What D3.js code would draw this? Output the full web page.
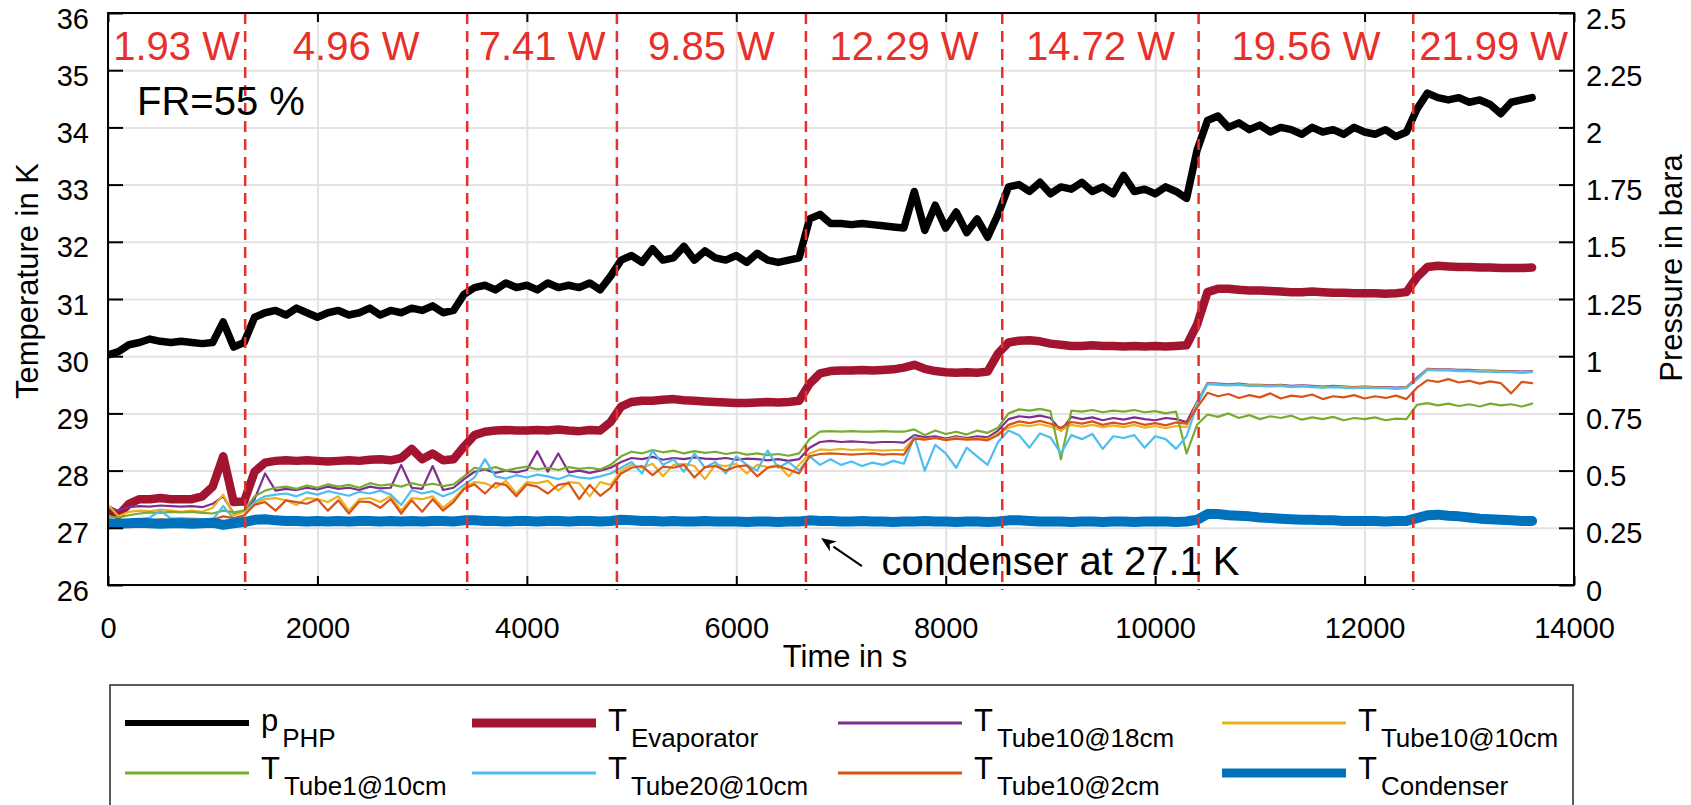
<!DOCTYPE html>
<html>
<head>
<meta charset="utf-8">
<title>PHP FR=55 %</title>
<script src="https://cdn.jsdelivr.net/npm/d3@7"></script>
<style>
  body { margin: 0; background: #fff; }
  svg text { font-family: "Liberation Sans", Arial, sans-serif; fill: #000; }
  .grid line { stroke: #e3e3e3; stroke-width: 2; }
  .grid path { display: none; }
  .axis path { display: none; }
  .axis line { stroke: #000; stroke-width: 2; }
</style>
</head>
<body>
<svg id="chart" width="1691" height="805"></svg>
<script>
// time stamps in s
const timeS = [
  0, 100, 200, 300, 400, 500, 600, 700, 800, 900,
  1000, 1100, 1200, 1300, 1400, 1500, 1600, 1700, 1800, 1900,
  2000, 2100, 2200, 2300, 2400, 2500, 2600, 2700, 2800, 2900,
  3000, 3100, 3200, 3300, 3400, 3500, 3600, 3700, 3800, 3900,
  4000, 4100, 4200, 4300, 4400, 4500, 4600, 4700, 4800, 4900,
  5000, 5100, 5200, 5300, 5400, 5500, 5600, 5700, 5800, 5900,
  6000, 6100, 6200, 6300, 6400, 6500, 6600, 6700, 6800, 6900,
  7000, 7100, 7200, 7300, 7400, 7500, 7600, 7700, 7800, 7900,
  8000, 8100, 8200, 8300, 8400, 8500, 8600, 8700, 8800, 8900,
  9000, 9100, 9200, 9300, 9400, 9500, 9600, 9700, 9800, 9900,
  10000, 10100, 10200, 10300, 10400, 10500, 10600, 10700, 10800, 10900,
  11000, 11100, 11200, 11300, 11400, 11500, 11600, 11700, 11800, 11900,
  12000, 12100, 12200, 12300, 12400, 12500, 12600, 12700, 12800, 12900,
  13000, 13100, 13200, 13300, 13400, 13500, 13600
];

// p_PHP in bara (right axis)
const pPHP = [
  1.005, 1.02, 1.05, 1.06, 1.075, 1.065, 1.06, 1.065, 1.06, 1.055,
  1.06, 1.15, 1.04, 1.06, 1.17, 1.19, 1.2, 1.18, 1.21, 1.19,
  1.17, 1.19, 1.2, 1.18, 1.19, 1.21, 1.18, 1.2, 1.19, 1.21,
  1.2, 1.22, 1.19, 1.2, 1.27, 1.3, 1.31, 1.29, 1.32, 1.3,
  1.31, 1.29, 1.32, 1.3, 1.31, 1.3, 1.32, 1.29, 1.35, 1.42,
  1.44, 1.41, 1.47, 1.42, 1.43, 1.48, 1.42, 1.46, 1.43, 1.42,
  1.44, 1.41, 1.45, 1.42, 1.41, 1.42, 1.43, 1.6, 1.62, 1.58,
  1.58, 1.575, 1.58, 1.575, 1.57, 1.565, 1.56, 1.72, 1.55, 1.66,
  1.56, 1.63, 1.54, 1.6, 1.52, 1.62, 1.74, 1.75, 1.72, 1.76,
  1.71, 1.74, 1.73, 1.76, 1.72, 1.74, 1.71, 1.79, 1.72, 1.73,
  1.71, 1.74, 1.72, 1.69, 1.9, 2.03, 2.05, 2.0, 2.02, 1.99,
  2.01, 1.98, 2.0, 1.99, 1.97, 2.0, 1.98, 1.99, 1.97, 2.0,
  1.98, 1.97, 1.99, 1.96, 1.98, 2.08, 2.15, 2.13, 2.12, 2.13,
  2.11, 2.12, 2.1, 2.06, 2.11, 2.12, 2.13
];

// temperatures in K (left axis)
const tEvap = [
  27.32, 27.22, 27.42, 27.5, 27.5, 27.52, 27.5, 27.5, 27.5, 27.55,
  27.72, 28.25, 27.45, 27.46, 27.98, 28.14, 28.17, 28.18, 28.17, 28.18,
  28.17, 28.16, 28.17, 28.18, 28.17, 28.19, 28.2, 28.18, 28.22, 28.38,
  28.2, 28.3, 28.18, 28.2, 28.42, 28.62, 28.68, 28.7, 28.71, 28.7,
  28.7, 28.71, 28.7, 28.72, 28.7, 28.69, 28.71, 28.7, 28.85, 29.12,
  29.2, 29.22, 29.22, 29.24, 29.25, 29.23, 29.22, 29.21, 29.2, 29.19,
  29.18, 29.18, 29.19, 29.2, 29.19, 29.2, 29.22, 29.52, 29.7, 29.74,
  29.75, 29.75, 29.76, 29.75, 29.76, 29.77, 29.8, 29.85, 29.78, 29.74,
  29.72, 29.71, 29.72, 29.71, 29.73, 30.05, 30.24, 30.27, 30.28, 30.26,
  30.22, 30.2, 30.18, 30.18, 30.19, 30.18, 30.18, 30.17, 30.18, 30.17,
  30.18, 30.17, 30.18, 30.19, 30.55, 31.12, 31.18, 31.18, 31.16, 31.15,
  31.15, 31.14, 31.13, 31.12, 31.12, 31.13, 31.12, 31.11, 31.11, 31.1,
  31.1, 31.1, 31.09, 31.1, 31.12, 31.38, 31.56, 31.58, 31.57, 31.56,
  31.56, 31.55, 31.55, 31.54, 31.54, 31.54, 31.55
];

const tTube10at18 = [
  27.35, 27.3, 27.36, 27.38, 27.37, 27.39, 27.38, 27.37, 27.38, 27.36,
  27.42, 27.55, 27.25, 27.3, 27.5, 27.95, 27.65, 27.68, 27.66, 27.7,
  27.67, 27.72, 27.68, 27.7, 27.66, 27.72, 27.69, 27.7, 28.1, 27.7,
  27.68, 28.08, 27.66, 27.7, 27.85, 27.98, 28.02, 27.96, 28.0, 27.97,
  28.01, 28.34, 27.98, 28.3, 27.97, 28.0, 27.96, 28.0, 28.05, 28.15,
  28.22, 28.2, 28.24, 28.19, 28.22, 28.2, 28.23, 28.21, 28.2, 28.22,
  28.19, 28.21, 28.2, 28.18, 28.2, 28.17, 28.2, 28.4, 28.5, 28.52,
  28.5, 28.51, 28.5, 28.49, 28.5, 28.5, 28.49, 28.62, 28.58, 28.6,
  28.56, 28.6, 28.57, 28.6, 28.58, 28.7, 28.9, 28.95, 28.93, 28.96,
  28.92, 28.7, 28.94, 28.9, 28.93, 28.88, 28.92, 28.89, 28.93, 28.9,
  28.88, 28.92, 28.9, 28.85, 29.2, 29.53, 29.52, 29.51, 29.52, 29.5,
  29.5, 29.49, 29.5, 29.48, 29.49, 29.48, 29.47, 29.48, 29.47, 29.46,
  29.47, 29.46, 29.46, 29.45, 29.46, 29.62, 29.78, 29.77, 29.77, 29.76,
  29.76, 29.75, 29.75, 29.74, 29.74, 29.73, 29.74
];

const tTube10at10 = [
  27.4, 27.2, 27.28, 27.3, 27.29, 27.32, 27.3, 27.28, 27.3, 27.28,
  27.35, 27.58, 27.22, 27.28, 27.42, 27.5, 27.52, 27.48, 27.4, 27.52,
  27.5, 27.45, 27.55, 27.3, 27.5, 27.52, 27.45, 27.55, 27.3, 27.52,
  27.5, 27.55, 27.35, 27.5, 27.7, 27.8, 27.78, 27.7, 27.82, 27.6,
  27.8, 27.78, 27.82, 27.65, 27.8, 27.78, 27.55, 27.8, 27.75, 28.0,
  28.1, 28.05, 28.12, 27.9, 28.1, 28.12, 28.08, 27.85, 28.1, 28.08,
  28.12, 27.95, 28.1, 28.06, 28.1, 27.9, 28.1, 28.3, 28.37, 28.36,
  28.38, 28.36, 28.37, 28.36, 28.35, 28.36, 28.36, 28.58, 28.55, 28.57,
  28.54, 28.58, 28.55, 28.56, 28.55, 28.65, 28.75, 28.8, 28.78, 28.81,
  28.77, 28.7, 28.8, 28.77, 28.8, 28.76, 28.79, 28.76, 28.8, 28.75,
  28.78, 28.74, 28.78, 28.76, 29.18, 29.52, 29.51, 29.5, 29.51, 29.49,
  29.49, 29.48, 29.49, 29.47, 29.48, 29.47, 29.46, 29.47, 29.46, 29.45,
  29.46, 29.45, 29.45, 29.44, 29.45, 29.6, 29.77, 29.76, 29.76, 29.75,
  29.75, 29.74, 29.74, 29.73, 29.73, 29.72, 29.73
];

const tTube1at10 = [
  27.2, 27.18, 27.22, 27.25, 27.27, 27.26, 27.28, 27.27, 27.28, 27.26,
  27.25, 27.3, 27.27, 27.3, 27.55, 27.65, 27.7, 27.72, 27.68, 27.74,
  27.7, 27.76, 27.72, 27.75, 27.7, 27.78, 27.74, 27.76, 27.72, 27.78,
  27.74, 27.77, 27.73, 27.76, 27.9, 28.05, 28.02, 28.06, 28.0, 28.04,
  28.07, 28.02, 28.05, 28.01, 28.06, 28.03, 28.05, 28.02, 28.1, 28.25,
  28.33, 28.3, 28.36, 28.32, 28.35, 28.3, 28.34, 28.31, 28.33, 28.29,
  28.32, 28.28, 28.3, 28.27, 28.29, 28.26, 28.3, 28.55, 28.68, 28.69,
  28.68, 28.69, 28.68, 28.68, 28.69, 28.68, 28.68, 28.72, 28.62, 28.7,
  28.64, 28.68, 28.63, 28.7, 28.66, 28.75, 29.0, 29.07, 29.05, 29.08,
  29.04, 28.2, 29.05, 29.03, 29.06, 29.02, 29.05, 29.03, 29.06, 29.02,
  29.04, 29.0, 29.03, 28.3, 28.8, 28.98, 28.94, 29.0, 28.92, 28.97,
  28.9, 28.95, 28.92, 28.96, 28.89, 28.93, 28.9, 28.94, 28.88, 28.92,
  28.9, 28.93, 28.88, 28.91, 28.9, 29.15, 29.18, 29.14, 29.17, 29.13,
  29.16, 29.12, 29.17, 29.14, 29.16, 29.12, 29.17
];

const tTube20at10 = [
  27.05, 27.1, 27.12, 27.15, 27.18, 27.3, 27.16, 27.17, 27.16, 27.15,
  27.14, 27.38, 27.16, 27.2, 27.45, 27.55, 27.58, 27.6, 27.55, 27.62,
  27.58, 27.64, 27.6, 27.56, 27.63, 27.6, 27.65, 27.58, 27.4, 27.66,
  27.6, 27.64, 27.55, 27.62, 27.75, 27.88, 28.2, 27.9, 27.86, 27.92,
  27.88, 27.93, 27.9, 27.85, 27.92, 27.88, 27.86, 27.9, 27.95, 28.05,
  28.15, 27.95, 28.35, 28.1, 28.2, 27.98, 28.3, 28.05, 28.15, 27.95,
  28.25, 28.1, 28.0, 28.35, 28.05, 28.15, 28.0, 28.25, 28.1, 28.2,
  28.1, 28.16, 28.08, 28.14, 28.1, 28.17, 28.12, 28.6, 28.0, 28.45,
  28.3, 28.05, 28.4, 28.25, 28.1, 28.5, 28.7, 28.62, 28.4, 28.65,
  28.58, 28.3, 28.62, 28.55, 28.64, 28.38, 28.6, 28.57, 28.62, 28.4,
  28.6, 28.55, 28.38, 28.6, 29.15, 29.51, 29.5, 29.49, 29.5, 29.48,
  29.48, 29.47, 29.48, 29.46, 29.47, 29.46, 29.45, 29.46, 29.45, 29.44,
  29.45, 29.44, 29.44, 29.43, 29.44, 29.6, 29.76, 29.75, 29.75, 29.74,
  29.74, 29.73, 29.73, 29.72, 29.72, 29.71, 29.72
];

const tTube10at2 = [
  27.1, 27.12, 27.1, 27.14, 27.12, 27.15, 27.13, 27.12, 27.15, 27.13,
  27.14, 27.2, 27.17, 27.22, 27.4, 27.45, 27.3, 27.48, 27.45, 27.42,
  27.5, 27.3, 27.48, 27.25, 27.46, 27.45, 27.35, 27.5, 27.25, 27.48,
  27.28, 27.5, 27.3, 27.45, 27.68, 27.76, 27.6, 27.78, 27.75, 27.55,
  27.76, 27.72, 27.6, 27.75, 27.78, 27.5, 27.75, 27.56, 27.7, 27.95,
  28.05, 28.08, 27.92, 28.07, 28.05, 28.1, 27.88, 28.06, 28.08, 28.0,
  28.07, 28.09, 27.9, 28.05, 28.08, 28.02, 27.95, 28.25, 28.29, 28.3,
  28.29, 28.28, 28.29, 28.3, 28.28, 28.29, 28.28, 28.56, 28.54, 28.57,
  28.53, 28.56, 28.54, 28.55, 28.53, 28.62, 28.8, 28.86, 28.83, 28.87,
  28.82, 28.75, 28.85, 28.82, 28.86, 28.8, 28.84, 28.81, 28.85, 28.8,
  28.83, 28.79, 28.84, 28.82, 29.1, 29.36, 29.3, 29.34, 29.27, 29.32,
  29.28, 29.35, 29.26, 29.31, 29.29, 29.33, 29.25, 29.3, 29.28, 29.32,
  29.26, 29.3, 29.27, 29.31, 29.25, 29.45, 29.58, 29.55, 29.6, 29.54,
  29.57, 29.52, 29.56, 29.53, 29.35, 29.55, 29.53
];

const tCond = [
  27.08, 27.07, 27.08, 27.09, 27.08, 27.07, 27.08, 27.08, 27.07, 27.08,
  27.09, 27.05, 27.08, 27.1, 27.14, 27.15, 27.13, 27.12, 27.12, 27.11,
  27.12, 27.11, 27.12, 27.11, 27.12, 27.12, 27.11, 27.12, 27.11, 27.12,
  27.11, 27.12, 27.12, 27.11, 27.13, 27.13, 27.12, 27.12, 27.11, 27.12,
  27.12, 27.11, 27.12, 27.12, 27.11, 27.12, 27.12, 27.11, 27.12, 27.14,
  27.13, 27.12, 27.12, 27.11, 27.12, 27.11, 27.11, 27.12, 27.11, 27.11,
  27.11, 27.1, 27.11, 27.11, 27.1, 27.11, 27.11, 27.13, 27.12, 27.12,
  27.11, 27.11, 27.12, 27.11, 27.11, 27.1, 27.11, 27.11, 27.12, 27.11,
  27.11, 27.1, 27.11, 27.11, 27.1, 27.11, 27.13, 27.13, 27.12, 27.11,
  27.11, 27.11, 27.1, 27.11, 27.11, 27.1, 27.11, 27.11, 27.1, 27.11,
  27.11, 27.11, 27.1, 27.11, 27.14, 27.24, 27.24, 27.22, 27.21, 27.2,
  27.18, 27.17, 27.16, 27.15, 27.14, 27.14, 27.13, 27.13, 27.12, 27.12,
  27.12, 27.12, 27.11, 27.12, 27.12, 27.17, 27.22, 27.23, 27.21, 27.2,
  27.18, 27.16, 27.15, 27.14, 27.13, 27.12, 27.12
];

// heater power steps
const stepTimes = [1310, 3430, 4860, 6665, 8540, 10415, 12465];
const powerLabels = ["1.93 W", "4.96 W", "7.41 W", "9.85 W", "12.29 W", "14.72 W", "19.56 W", "21.99 W"];

// axis ticks
const timeTicks = [0, 2000, 4000, 6000, 8000, 10000, 12000, 14000];
const tempTicks = [26, 27, 28, 29, 30, 31, 32, 33, 34, 35, 36];
const pressTicks = [0, 0.25, 0.5, 0.75, 1, 1.25, 1.5, 1.75, 2, 2.25, 2.5];

// legend (row-wise, 4 columns)
const legendMain = ["p", "T", "T", "T", "T", "T", "T", "T"];
const legendSub = ["PHP", "Evaporator", "Tube10@18cm", "Tube10@10cm", "Tube1@10cm", "Tube20@10cm", "Tube10@2cm", "Condenser"];

const colors = {
  p: "#000000", evap: "#A2142F", t18: "#7E2F8E", t10: "#EDB120",
  t1: "#77AC30", t20: "#4DBEEE", t2: "#D95319", cond: "#0072BD"
};

const svg = d3.select("#chart");
const mLeft = 108, mRight = 1574, mTop = 13, mBottom = 585;

const x = d3.scaleLinear().domain([0, 14000]).range([mLeft, mRight]);
const yT = d3.scaleLinear().domain([26, 36]).range([mBottom, mTop]);
const yP = d3.scaleLinear().domain([0, 2.5]).range([mBottom, mTop]);

svg.append("rect").attr("width", 1691).attr("height", 805).attr("fill", "#fff");

// grid
svg.append("g").attr("class", "grid")
  .attr("transform", "translate(0," + mBottom + ")")
  .call(d3.axisBottom(x).tickValues(timeTicks).tickSize(-(mBottom - mTop)).tickFormat(""));
svg.append("g").attr("class", "grid")
  .attr("transform", "translate(" + mLeft + ",0)")
  .call(d3.axisLeft(yT).tickValues(tempTicks).tickSize(-(mRight - mLeft)).tickFormat(""));

svg.append("clipPath").attr("id", "plotclip")
  .append("rect").attr("x", mLeft).attr("y", mTop).attr("width", mRight - mLeft).attr("height", mBottom - mTop);

const plot = svg.append("g").attr("clip-path", "url(#plotclip)");

function lineT(vals) {
  return d3.line().x((d, i) => x(timeS[i])).y(d => yT(d))(vals);
}
function lineP(vals) {
  return d3.line().x((d, i) => x(timeS[i])).y(d => yP(d))(vals);
}

const series = [
  { d: lineP(pPHP), c: colors.p, w: 7.5 },
  { d: lineT(tEvap), c: colors.evap, w: 8.5 },
  { d: lineT(tTube10at18), c: colors.t18, w: 2.2 },
  { d: lineT(tTube10at10), c: colors.t10, w: 2.2 },
  { d: lineT(tTube1at10), c: colors.t1, w: 2.2 },
  { d: lineT(tTube20at10), c: colors.t20, w: 2.2 },
  { d: lineT(tTube10at2), c: colors.t2, w: 2.2 },
  { d: lineT(tCond), c: colors.cond, w: 10 }
];
series.forEach(s => {
  plot.append("path")
    .attr("d", s.d)
    .attr("fill", "none")
    .attr("stroke", s.c)
    .attr("stroke-width", s.w)
    .attr("stroke-linejoin", "round")
    .attr("stroke-linecap", "round");
});

// power step markers
svg.append("g").selectAll("line").data(stepTimes).enter().append("line")
  .attr("x1", d => x(d)).attr("x2", d => x(d))
  .attr("y1", mTop).attr("y2", mBottom + 5)
  .attr("stroke", "#e8302a").attr("stroke-width", 2.5)
  .attr("stroke-dasharray", "11,7");

const bounds = [0].concat(stepTimes).concat([14000]);
svg.append("g").selectAll("text").data(powerLabels).enter().append("text")
  .attr("x", (d, i) => x((bounds[i] + bounds[i + 1]) / 2))
  .attr("y", yT(35.17))
  .attr("text-anchor", "middle")
  .attr("font-size", 40)
  .style("fill", "#e8302a")
  .text(d => d);

// box
svg.append("rect")
  .attr("x", mLeft).attr("y", mTop)
  .attr("width", mRight - mLeft).attr("height", mBottom - mTop)
  .attr("fill", "none").attr("stroke", "#000").attr("stroke-width", 2);

// axes
const fontFam = "'Liberation Sans', Arial, sans-serif";
svg.append("g").attr("class", "axis")
  .attr("transform", "translate(0," + mBottom + ")")
  .call(d3.axisBottom(x).tickValues(timeTicks).tickSizeInner(-9).tickSizeOuter(0).tickPadding(32).tickFormat(d => String(d)))
  .attr("font-size", 29).attr("font-family", fontFam);
svg.append("g").attr("class", "axis")
  .attr("transform", "translate(0," + mTop + ")")
  .call(d3.axisTop(x).tickValues(timeTicks).tickSizeInner(-9).tickSizeOuter(0).tickFormat(""));
svg.append("g").attr("class", "axis yaxis")
  .attr("transform", "translate(" + mLeft + ",0)")
  .call(d3.axisLeft(yT).tickValues(tempTicks).tickSizeInner(-15).tickSizeOuter(0).tickPadding(19).tickFormat(d => String(d)))
  .attr("font-size", 29).attr("font-family", fontFam);
svg.append("g").attr("class", "axis yaxis")
  .attr("transform", "translate(" + mRight + ",0)")
  .call(d3.axisRight(yP).tickValues(pressTicks).tickSizeInner(-15).tickSizeOuter(0).tickPadding(12).tickFormat(d => String(d)))
  .attr("font-size", 29).attr("font-family", fontFam);
svg.selectAll(".axis text").style("fill", "#000");
svg.selectAll(".yaxis text").attr("dy", "0.52em");

// axis titles
svg.append("text")
  .attr("x", (mLeft + mRight) / 2 + 4).attr("y", 667)
  .attr("text-anchor", "middle").attr("font-size", 31)
  .text("Time in s");
svg.append("text")
  .attr("transform", "translate(38,281) rotate(-90)")
  .attr("text-anchor", "middle").attr("font-size", 31)
  .text("Temperature in K");
svg.append("text")
  .attr("transform", "translate(1682,268) rotate(-90)")
  .attr("text-anchor", "middle").attr("font-size", 31)
  .text("Pressure in bara");

// annotations
svg.append("text")
  .attr("x", x(277)).attr("y", yT(34.22))
  .attr("font-size", 40)
  .text("FR=55 %");

svg.append("text")
  .attr("x", x(7387)).attr("y", yT(26.17))
  .attr("font-size", 40)
  .text("condenser at 27.1 K");

const ax0 = x(7200), ay0 = yT(26.33), ax1 = x(6809), ay1 = yT(26.82);
const ang = Math.atan2(ay1 - ay0, ax1 - ax0);
const hl = 15, hw = 6;
const bx = ax1 - hl * Math.cos(ang), by = ay1 - hl * Math.sin(ang);
svg.append("line")
  .attr("x1", ax0).attr("y1", ay0).attr("x2", bx).attr("y2", by)
  .attr("stroke", "#000").attr("stroke-width", 2);
svg.append("path")
  .attr("d", "M" + ax1 + "," + ay1 +
    "L" + (bx + hw * Math.sin(ang)) + "," + (by - hw * Math.cos(ang)) +
    "L" + (ax1 - 0.7 * hl * Math.cos(ang)) + "," + (ay1 - 0.7 * hl * Math.sin(ang)) +
    "L" + (bx - hw * Math.sin(ang)) + "," + (by + hw * Math.cos(ang)) + "Z")
  .attr("fill", "#000");

// legend
const legend = svg.append("g");
legend.append("rect")
  .attr("x", 110).attr("y", 685).attr("width", 1463).attr("height", 130)
  .attr("fill", "#fff").attr("stroke", "#262626").attr("stroke-width", 1.5);

const legColors = [colors.p, colors.evap, colors.t18, colors.t10, colors.t1, colors.t20, colors.t2, colors.cond];
const legWidths = [6, 9, 3, 3, 3, 3, 3, 9];
const colX = [125, 472, 838, 1222];
const rowY = [723, 773];
const rowBase = [731, 779];

legendSub.forEach((sub, i) => {
  const c = i % 4, r = Math.floor(i / 4);
  legend.append("line")
    .attr("x1", colX[c]).attr("x2", colX[c] + 124)
    .attr("y1", rowY[r]).attr("y2", rowY[r])
    .attr("stroke", legColors[i]).attr("stroke-width", legWidths[i]);
  const t = legend.append("text")
    .attr("x", colX[c] + 136).attr("y", rowBase[r])
    .attr("font-size", 31);
  t.append("tspan").text(legendMain[i]);
  t.append("tspan").attr("dx", 4).attr("dy", 16).attr("font-size", 26).text(sub);
});
</script>
</body>
</html>
